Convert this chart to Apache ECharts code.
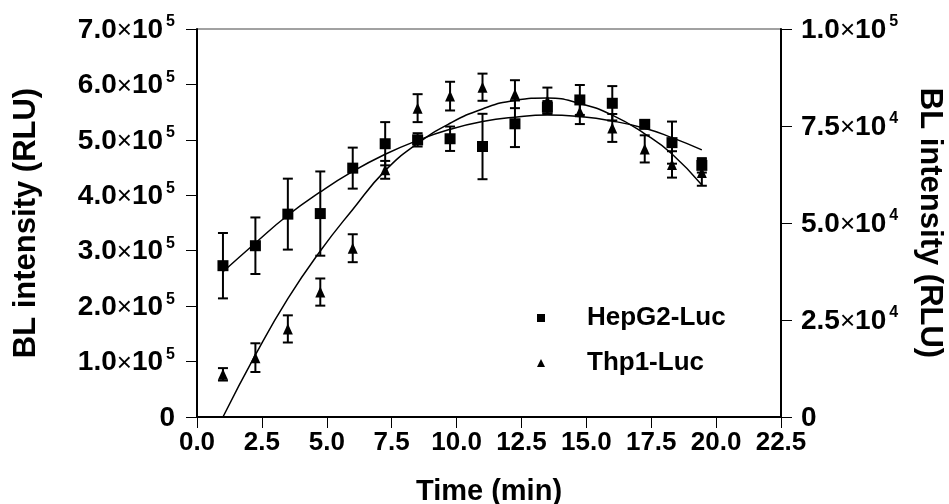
<!DOCTYPE html>
<html>
<head>
<meta charset="utf-8">
<script src="https://cdn.jsdelivr.net/npm/echarts@6/dist/echarts.min.js"></script>
<style>
  html, body { margin: 0; padding: 0; background: #fff; }
  #chart { width: 949px; height: 504px; }
</style>
</head>
<body>
<div id="chart"></div>
<script>
// Sampling times (min)
const timePts = [1.0, 2.25, 3.5, 4.75, 6.0, 7.25, 8.5, 9.75, 11.0, 12.25, 13.5, 14.75, 16.0, 17.25, 18.3, 19.45];

// HepG2-Luc mean and SD (RLU, left axis)
const hepMean = [273000, 309000, 366000, 367000, 449000, 493000, 500000, 502000, 488000, 529000, 559000, 572000, 566000, 528000, 495000, 454000];
const hepErr  = [59000, 51000, 64000, 76000, 37000, 39000, 12000, 22000, 59000, 42000, 11000, 27000, 31000, 7000, 38000, 13000];

// Thp1-Luc mean and SD (RLU, right axis)
const thpMean = [11000, 15300, 22700, 32200, 43500, 63700, 79600, 82700, 85000, 83200, 81500, 78700, 74500, 69100, 65100, 63000];
const thpErr  = [1600, 3700, 3500, 3500, 3600, 2300, 3600, 3700, 3500, 3600, 3400, 3200, 3600, 3500, 3400, 3400];

// Fitted trend curves
const fitTime = [1.0, 2.25, 3.5, 4.75, 6.0, 7.25, 8.5, 9.75, 11.0, 12.25, 13.5, 14.75, 16.0, 17.25, 18.3, 19.45];
const hepFit  = [262000, 314000, 364000, 406000, 443000, 474000, 499000, 519000, 533000, 541000, 545000, 542000, 534000, 521000, 504000, 482000];
const thpFit  = [0, 16000, 30500, 42800, 53500, 63500, 70500, 75700, 79400, 81600, 82200, 80800, 77800, 73000, 67800, 59800];

// Axis tick values
const xTicks = [0, 2.5, 5, 7.5, 10, 12.5, 15, 17.5, 20, 22.5];
const leftMax = 700000, leftStep = 100000;
const rightMax = 100000, rightStep = 25000;

const FONT = 'Liberation Sans, Arial, sans-serif';

function sciLabel(v) {
  if (v === 0) return '{m|0}';
  const exp = Math.floor(Math.log10(v) + 1e-9);
  const mant = (v / Math.pow(10, exp)).toFixed(1);
  return '{m|' + mant + '}{x|×}{m|10}{s|' + exp + '}';
}
const sciRich = {
  m: { fontFamily: FONT, fontWeight: 'bold', fontSize: 28, color: '#000', lineHeight: 30, verticalAlign: 'bottom' },
  x: { fontFamily: FONT, fontWeight: 'normal', fontSize: 26, color: '#000', lineHeight: 30, verticalAlign: 'bottom' },
  s: { fontFamily: FONT, fontWeight: 'bold', fontSize: 16, color: '#000', lineHeight: 16, verticalAlign: 'top', padding: [0, 0, 0, 3] }
};

function pairs(xs, ys) { return xs.map((x, i) => [x, ys[i]]); }
function bars(xs, m, e) { return xs.map((x, i) => [x, m[i] - e[i], m[i] + e[i]]); }

function errorBar(params, api) {
  const x = api.value(0);
  const lo = api.coord([x, api.value(1)]);
  const hi = api.coord([x, api.value(2)]);
  const hw = 5;
  const st = { stroke: '#000', lineWidth: 2 };
  return {
    type: 'group',
    children: [
      { type: 'line', shape: { x1: hi[0], y1: hi[1], x2: lo[0], y2: lo[1] }, style: st },
      { type: 'line', shape: { x1: hi[0] - hw, y1: hi[1], x2: hi[0] + hw, y2: hi[1] }, style: st },
      { type: 'line', shape: { x1: lo[0] - hw, y1: lo[1], x2: lo[0] + hw, y2: lo[1] }, style: st }
    ]
  };
}

const chart = echarts.init(document.getElementById('chart'), null, { renderer: 'canvas' });

chart.setOption({
  animation: false,
  backgroundColor: '#fff',
  grid: {
    left: 197, right: 168, top: 29, bottom: 87,
    containLabel: false, outerBoundsMode: 'none',
    show: true, borderColor: '#444', borderWidth: 1, backgroundColor: 'transparent'
  },
  legend: {
    orient: 'vertical',
    left: 532, top: 300,
    padding: 5,
    itemWidth: 8, itemHeight: 8, itemGap: 19,
    selectedMode: false,
    textStyle: { fontFamily: FONT, fontWeight: 'bold', fontSize: 26, color: '#000', padding: [0, 0, 0, 37] },
    data: [
      { name: 'HepG2-Luc', icon: 'rect', itemStyle: { color: '#000', opacity: 1 } },
      { name: 'Thp1-Luc', icon: 'triangle', itemStyle: { color: '#000', opacity: 1 } }
    ]
  },
  xAxis: {
    type: 'value',
    min: 0, max: 22.5, interval: 2.5,
    name: 'Time (min)', nameLocation: 'middle', nameGap: 60,
    nameTextStyle: { fontFamily: FONT, fontWeight: 'bold', fontSize: 29, color: '#000' },
    axisLine: { show: true, onZero: false, lineStyle: { color: '#000', width: 2 } },
    axisTick: { show: true, inside: false, length: 11, lineStyle: { color: '#000', width: 1 } },
    axisLabel: {
      margin: 13, fontFamily: FONT, fontWeight: 'bold', fontSize: 26, color: '#000',
      formatter: v => (xTicks.indexOf(v) >= 0 ? v.toFixed(1) : '')
    },
    splitLine: { show: false }
  },
  yAxis: [
    {
      type: 'value', position: 'left',
      min: 0, max: leftMax, interval: leftStep,
      name: 'BL intensity (RLU)', nameLocation: 'middle', nameGap: 155,
      nameTextStyle: { fontFamily: FONT, fontWeight: 'bold', fontSize: 31, color: '#000' },
      axisLine: { show: true, lineStyle: { color: '#000', width: 2 } },
      axisTick: { show: true, inside: false, length: 11, lineStyle: { color: '#000', width: 1 } },
      axisLabel: { margin: 22, formatter: sciLabel, rich: sciRich },
      splitLine: { show: false }
    },
    {
      type: 'value', position: 'right',
      min: 0, max: rightMax, interval: rightStep,
      name: 'BL intensity (RLU)', nameLocation: 'middle', nameGap: 133, nameRotate: -90,
      nameTextStyle: { fontFamily: FONT, fontWeight: 'bold', fontSize: 31, color: '#000' },
      axisLine: { show: true, lineStyle: { color: '#000', width: 2 } },
      axisTick: { show: true, inside: false, length: 11, lineStyle: { color: '#000', width: 1 } },
      axisLabel: { margin: 20, formatter: sciLabel, rich: sciRich },
      splitLine: { show: false }
    }
  ],
  series: [
    {
      name: 'HepG2-Luc err', type: 'custom', yAxisIndex: 0,
      renderItem: errorBar, data: bars(timePts, hepMean, hepErr), z: 2, silent: true
    },
    {
      name: 'Thp1-Luc err', type: 'custom', yAxisIndex: 1,
      renderItem: errorBar, data: bars(timePts, thpMean, thpErr), z: 2, silent: true
    },
    {
      name: 'HepG2-Luc fit', type: 'line', yAxisIndex: 0,
      data: pairs(fitTime, hepFit), smooth: 0.5, showSymbol: false,
      lineStyle: { color: '#000', width: 1.5 }, z: 3, silent: true
    },
    {
      name: 'Thp1-Luc fit', type: 'line', yAxisIndex: 1,
      data: pairs(fitTime, thpFit), smooth: 0.5, showSymbol: false,
      lineStyle: { color: '#000', width: 1.5 }, z: 3, silent: true
    },
    {
      name: 'HepG2-Luc', type: 'scatter', yAxisIndex: 0,
      data: pairs(timePts, hepMean), symbol: 'rect', symbolSize: 11,
      itemStyle: { color: '#000', opacity: 1 }, z: 4
    },
    {
      name: 'Thp1-Luc', type: 'scatter', yAxisIndex: 1,
      data: pairs(timePts, thpMean), symbol: 'triangle', symbolSize: [10, 11],
      itemStyle: { color: '#000', opacity: 1 }, z: 4
    }
  ]
});
</script>
</body>
</html>
